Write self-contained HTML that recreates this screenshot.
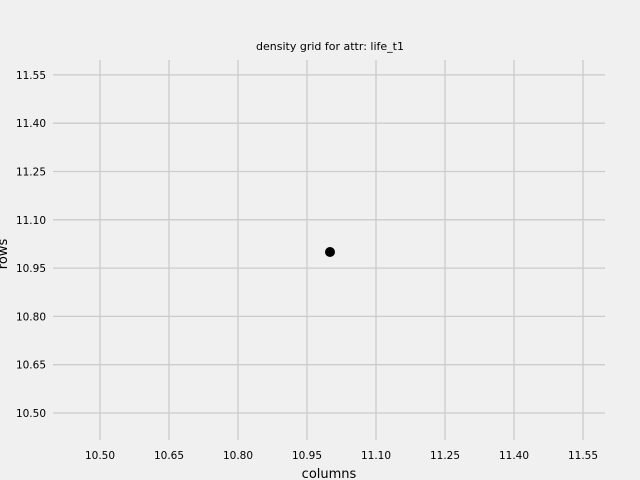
<!DOCTYPE html>
<html><head><meta charset="utf-8"><style>
body{margin:0;background:#f0f0f0;}
svg{display:block;font-family:"DejaVu Sans","Liberation Sans",sans-serif;}
</style></head><body>
<svg width="640" height="480">
<rect width="640" height="480" fill="#f0f0f0"/>
<g id="grid"></g>
<g id="ticks"></g>
<g id="marks"></g>
<text x="330" y="50" font-size="11" text-anchor="middle" fill="#000">density grid for attr: life_t1</text>
<text x="329" y="478" font-size="13" text-anchor="middle" fill="#000">columns</text>
<text x="7" y="254" font-size="13" text-anchor="middle" fill="#000" transform="rotate(-90 7 254)">rows</text>
</svg>
<script>
const xTicks=[10.50,10.65,10.80,10.95,11.10,11.25,11.40,11.55];
const yTicks=[10.50,10.65,10.80,10.95,11.10,11.25,11.40,11.55];
const xs=[11.0];
const ys=[11.0];
const L=53,R=605,T=60,B=440;
function sx(v){return 100+(v-10.5)/0.15*69;}
function sy(v){return 413-(v-10.5)/0.15*48.3;}
const NS="http://www.w3.org/2000/svg";
const grid=document.getElementById('grid'),ticks=document.getElementById('ticks'),marks=document.getElementById('marks');
function mk(tag,attrs,parent){const e=document.createElementNS(NS,tag);for(const k in attrs)e.setAttribute(k,attrs[k]);parent.appendChild(e);return e;}
xTicks.forEach(v=>{
 const l=mk('line',{x1:sx(v),x2:sx(v),y1:T,y2:B,stroke:'#cbcbcb','stroke-width':1.3},grid);
 
 
 const t=mk('text',{x:sx(v),y:459,'font-size':10.5,'text-anchor':'middle',fill:'#000'},ticks);
 t.textContent=v.toFixed(2);
 
 
});
yTicks.forEach(v=>{
 const l=mk('line',{x1:L,x2:R,y1:sy(v),y2:sy(v),stroke:'#cbcbcb','stroke-width':1.3},grid);
 
 
 const t=mk('text',{x:46,y:sy(v)+4,'font-size':10.5,'text-anchor':'end',fill:'#000'},ticks);
 t.textContent=v.toFixed(2);
 
 
});
xs.forEach((v,i)=>{
 const c=mk('circle',{cx:sx(v),cy:sy(ys[i]),r:5,fill:'#000'},marks);
 
 
});
</script>
</body></html>
